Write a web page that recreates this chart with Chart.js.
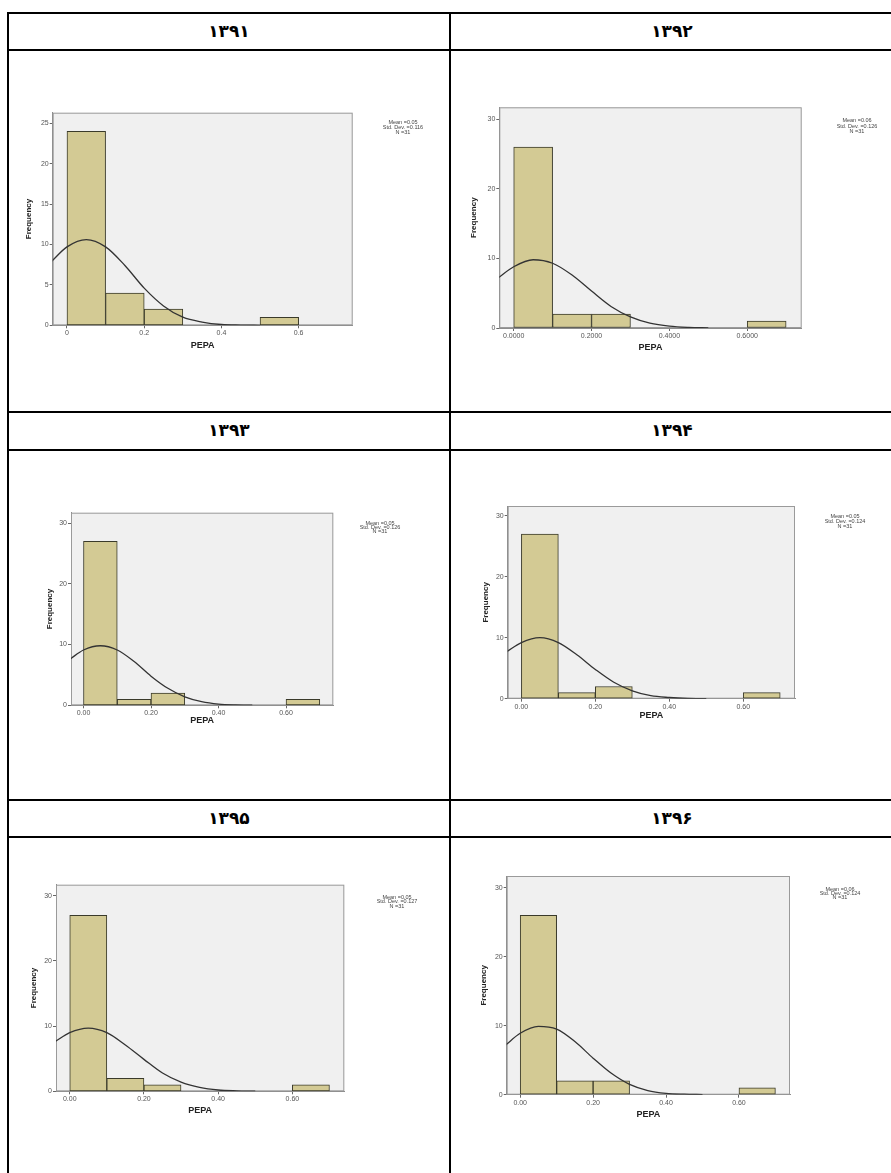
<!DOCTYPE html>
<html>
<head>
<meta charset="utf-8">
<script src="https://cdn.jsdelivr.net/npm/chart.js@4.4.1/dist/chart.umd.min.js"></script>
<style>
  html, body { margin: 0; padding: 0; background: #fff; }
  body { width: 891px; height: 1173px; position: relative; overflow: hidden; }
  .ln { position: absolute; background: #000; }
  .hd { position: absolute; height: 36px; line-height: 36px; text-align: center;
        font-family: "DejaVu Sans", sans-serif; font-weight: bold; font-size: 17px; color: #000; }
  canvas { position: absolute; }
</style>
</head>
<body>
<div id="tabla"></div>
<script>
// datos (histogramas SPSS de PEPA por año)
var years = ['۱۳۹۱', '۱۳۹۲', '۱۳۹۳', '۱۳۹۴', '۱۳۹۵', '۱۳۹۶'];
var binWidth = 0.1;
var binStarts = [
    [0, 0.1, 0.2, 0.5],
    [0, 0.1, 0.2, 0.6],
    [0, 0.1, 0.2, 0.6],
    [0, 0.1, 0.2, 0.6],
    [0, 0.1, 0.2, 0.6],
    [0, 0.1, 0.2, 0.6]
];
var counts = [
    [24, 4, 2, 1],
    [26, 2, 2, 1],
    [27, 1, 2, 1],
    [27, 1, 2, 1],
    [27, 2, 1, 1],
    [26, 2, 2, 1]
];
var means = ['0.05', '0.06', '0.05', '0.05', '0.05', '0.06'];
var stdDevs = ['0.116', '0.126', '0.126', '0.124', '0.127', '0.124'];
var nValues = [31, 31, 31, 31, 31, 31];

// curva normal leida punto a punto
var curveX = [-0.04, 0, 0.05, 0.1, 0.15, 0.2, 0.25, 0.3, 0.35, 0.4, 0.45, 0.5];
var curves = [
    [7.9, 9.7, 10.6, 9.7, 7.4, 4.6, 2.4, 1.0, 0.4, 0.1, 0.03, 0],
    [7.2, 8.8, 9.8, 9.3, 7.6, 5.3, 3.1, 1.6, 0.7, 0.26, 0.08, 0.02],
    [7.6, 9.1, 9.8, 9.1, 7.2, 4.8, 2.8, 1.4, 0.6, 0.2, 0.06, 0.02],
    [7.7, 9.2, 10.0, 9.2, 7.2, 4.8, 2.7, 1.3, 0.5, 0.2, 0.05, 0.01],
    [7.6, 9.0, 9.7, 9.0, 7.1, 4.9, 2.8, 1.4, 0.6, 0.2, 0.07, 0.02],
    [7.2, 8.9, 9.9, 9.5, 7.7, 5.3, 3.1, 1.5, 0.6, 0.2, 0.07, 0.02]
];

var xTickValues = [0, 0.2, 0.4, 0.6];
var yTickValues = [
    [0, 5, 10, 15, 20, 25],
    [0, 10, 20, 30],
    [0, 10, 20, 30],
    [0, 10, 20, 30],
    [0, 10, 20, 30],
    [0, 10, 20, 30]
];
var yMax = [26.3, 31.7, 31.7, 31.6, 31.7, 31.7];
var xDecimals = [null, 4, 2, 2, 2, 2];
var xMin = -0.037, xMax = 0.74;

// ubicacion de cada grafico en la tabla
var paneles = [
    {cell: [9, 51, 440, 360], plot: [52.7, 112.7, 352.7, 325.3], yGap: 24, xGap: 20, stats: [403, 122.5, 5]},
    {cell: [451, 51, 440, 360], plot: [499.3, 107.3, 801.7, 328], yGap: 26, xGap: 20, stats: [857, 120.7, 5.3]},
    {cell: [9, 451, 440, 348], plot: [71, 512.7, 333.3, 705.3], yGap: 21, xGap: 15.5, stats: [380, 523, 4.2]},
    {cell: [451, 451, 440, 348], plot: [507.7, 506, 795, 698.7], yGap: 22, xGap: 17, stats: [845, 516.7, 5]},
    {cell: [9, 838, 440, 335], plot: [56, 884.7, 344.3, 1091.3], yGap: 22, xGap: 19, stats: [397, 897, 4.5]},
    {cell: [451, 838, 440, 335], plot: [506.7, 876, 790, 1094.7], yGap: 23, xGap: 20, stats: [840, 889, 4.2]}
];

var cont = document.getElementById('tabla');

function linea(x, y, w, h) {
    var d = document.createElement('div');
    d.className = 'ln';
    d.style.left = x + 'px';
    d.style.top = y + 'px';
    d.style.width = w + 'px';
    d.style.height = h + 'px';
    cont.appendChild(d);
}

// bordes de la tabla
[12, 49, 411, 449, 799, 836].forEach(function (y) {
    linea(7, y, 891, 2);
});
linea(7, 12, 2, 1161);
linea(449, 12, 2, 1161);

// encabezados con el año
var filasHd = [13, 412, 800];
years.forEach(function (year, i) {
    var d = document.createElement('div');
    d.className = 'hd';
    d.style.top = filasHd[Math.floor(i / 2)] + 'px';
    d.style.left = (i % 2 === 0 ? 9 : 451) + 'px';
    d.style.width = (i % 2 === 0 ? 440 : 442) + 'px';
    d.textContent = year;
    cont.appendChild(d);
});

var fuente = '"Liberation Sans", Arial, sans-serif';
var tituloY = 8, tituloX = 9;

paneles.forEach(function (p, i) {
    var c = document.createElement('canvas');
    c.width = p.cell[2];
    c.height = p.cell[3];
    c.style.left = p.cell[0] + 'px';
    c.style.top = p.cell[1] + 'px';
    cont.appendChild(c);

    var yW = p.yGap + tituloY * 1.2 / 2;
    var xH = p.xGap + tituloX * 1.2 / 2;
    var pad = {
        left: p.plot[0] - p.cell[0] - yW,
        top: p.plot[1] - p.cell[1],
        right: p.cell[0] + p.cell[2] - p.plot[2],
        bottom: p.cell[1] + p.cell[3] - p.plot[3] - xH
    };

    var barras = binStarts[i].map(function (b, k) {
        return {x: b + binWidth / 2, y: counts[i][k]};
    });
    var curva = curveX.map(function (x, k) {
        return {x: x, y: curves[i][k]};
    });

    var fondo = {
        id: 'fondo' + i,
        beforeDraw: function (chart) {
            var a = chart.chartArea, ctx = chart.ctx;
            ctx.save();
            ctx.fillStyle = '#f0f0f0';
            ctx.fillRect(a.left, a.top, a.right - a.left, a.bottom - a.top);
            ctx.restore();
        },
        beforeDatasetsDraw: function (chart) {
            var a = chart.chartArea, ctx = chart.ctx;
            ctx.save();
            ctx.strokeStyle = '#9a9a9a';
            ctx.lineWidth = 1;
            ctx.strokeRect(a.left + 0.5, a.top + 0.5, a.right - a.left - 1, a.bottom - a.top - 1);
            ctx.restore();
        },
        afterDraw: function (chart) {
            var ctx = chart.ctx;
            var cx = p.stats[0] - p.cell[0], cy = p.stats[1] - p.cell[1], dy = p.stats[2];
            ctx.save();
            ctx.fillStyle = '#444';
            ctx.font = '5.5px ' + fuente;
            ctx.textAlign = 'center';
            ctx.textBaseline = 'middle';
            ctx.fillText('Mean =' + means[i], cx, cy);
            ctx.fillText('Std. Dev. =' + stdDevs[i], cx, cy + dy);
            ctx.fillText('N =' + nValues[i], cx, cy + 2 * dy);
            ctx.restore();
        }
    };

    new Chart(c.getContext('2d'), {
        type: 'bar',
        data: {
            datasets: [{
                    type: 'line',
                    data: curva,
                    borderColor: '#333',
                    borderWidth: 1.3,
                    pointRadius: 0,
                    fill: false,
                    cubicInterpolationMode: 'monotone',
                    order: 0
                }, {
                    type: 'bar',
                    data: barras,
                    backgroundColor: 'rgb(211,202,148)',
                    borderColor: '#3a3a2a',
                    borderWidth: 1,
                    borderSkipped: false,
                    barPercentage: 1,
                    categoryPercentage: 1,
                    order: 1
                }]
        },
        plugins: [fondo],
        options: {
            responsive: false,
            animation: false,
            devicePixelRatio: 1,
            layout: {padding: pad},
            plugins: {
                legend: {display: false},
                tooltip: {enabled: false}
            },
            scales: {
                x: {
                    type: 'linear',
                    min: xMin,
                    max: xMax,
                    offset: false,
                    afterBuildTicks: function (s) {
                        s.ticks = xTickValues.map(function (v) {
                            return {value: v};
                        });
                    },
                    afterFit: function (s) {
                        s.height = xH;
                    },
                    ticks: {
                        padding: 1,
                        maxRotation: 0,
                        color: '#555',
                        font: {family: fuente, size: 7},
                        callback: function (v) {
                            return xDecimals[i] === null ? String(v) : Number(v).toFixed(xDecimals[i]);
                        }
                    },
                    grid: {display: true, offset: false, drawOnChartArea: false, tickLength: 3, color: '#666'},
                    border: {display: true, color: '#8c8c8c'},
                    title: {
                        display: true,
                        text: 'PEPA',
                        color: '#222',
                        padding: 0,
                        font: {family: fuente, size: tituloX, weight: 'bold'}
                    }
                },
                y: {
                    min: 0,
                    max: yMax[i],
                    afterBuildTicks: function (s) {
                        s.ticks = yTickValues[i].map(function (v) {
                            return {value: v};
                        });
                    },
                    afterFit: function (s) {
                        s.width = yW;
                    },
                    ticks: {
                        padding: 1,
                        color: '#555',
                        font: {family: fuente, size: 7}
                    },
                    grid: {display: true, drawOnChartArea: false, tickLength: 3, color: '#666'},
                    border: {display: true, color: '#8c8c8c'},
                    title: {
                        display: true,
                        text: 'Frequency',
                        color: '#222',
                        padding: 0,
                        font: {family: fuente, size: tituloY, weight: 'bold'}
                    }
                }
            }
        }
    });
});
</script>
</body>
</html>
